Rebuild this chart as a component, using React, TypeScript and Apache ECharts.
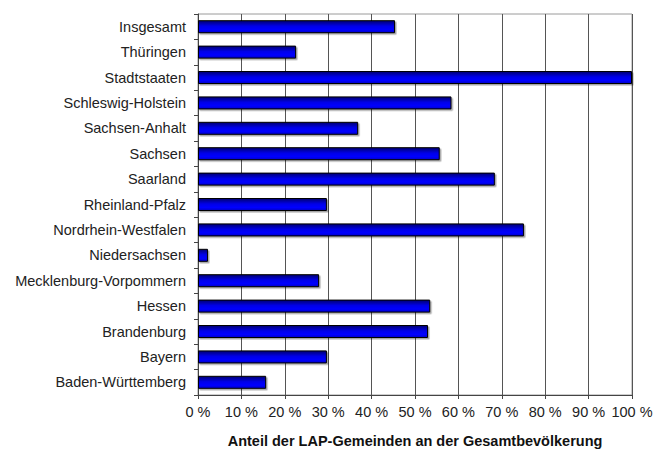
import React, { useEffect, useRef } from "react";
import * as echarts from "echarts";

const categories = [
  "Insgesamt",
  "Thüringen",
  "Stadtstaaten",
  "Schleswig-Holstein",
  "Sachsen-Anhalt",
  "Sachsen",
  "Saarland",
  "Rheinland-Pfalz",
  "Nordrhein-Westfalen",
  "Niedersachsen",
  "Mecklenburg-Vorpommern",
  "Hessen",
  "Brandenburg",
  "Bayern",
  "Baden-Württemberg",
];

const shares = [45.4, 22.6, 100, 58.4, 36.9, 55.7, 68.4, 29.7, 75.1, 2.3, 27.9, 53.5, 53.0, 29.7, 15.7];

const axisTitle = "Anteil der LAP-Gemeinden an der Gesamtbevölkerung";

export default function App() {
  const ref = useRef<HTMLDivElement>(null);
  useEffect(() => {
    if (!ref.current) return;
    const chart = echarts.init(ref.current, undefined, { renderer: "svg" });
    chart.setOption({
      animation: false,
      backgroundColor: "#ffffff",
      textStyle: { fontFamily: "Liberation Sans, Arial, sans-serif" },
      grid: {
        left: 198,
        right: 29,
        top: 14,
        bottom: 55,
        containLabel: false,
        outerBoundsMode: "none",
        show: true,
        borderColor: "#9a9a9a",
        borderWidth: 1,
        backgroundColor: "transparent",
      },
      xAxis: {
        type: "value",
        min: 0,
        max: 100,
        interval: 10,
        axisLine: { show: true, lineStyle: { color: "#444", width: 1 } },
        axisTick: { show: true, length: 4, lineStyle: { color: "#444" } },
        axisLabel: {
          formatter: "{value} %",
          fontSize: 14.5,
          color: "#222",
          margin: 9,
        },
        splitLine: { show: true, lineStyle: { color: "#555", width: 1 } },
        name: axisTitle,
        nameLocation: "middle",
        nameGap: 38,
        nameTextStyle: { fontSize: 14.5, fontWeight: "bold", color: "#111" },
      },
      yAxis: {
        type: "category",
        data: categories,
        inverse: true,
        axisLine: { show: true, lineStyle: { color: "#444", width: 1 } },
        axisTick: { show: true, length: 4, lineStyle: { color: "#444" } },
        axisLabel: { fontSize: 14.5, color: "#222", margin: 12 },
        splitLine: { show: false },
      },
      series: [
        {
          type: "bar",
          data: shares,
          barWidth: 13,
          itemStyle: {
            color: new echarts.graphic.LinearGradient(0, 0, 0, 1, [
              { offset: 0, color: "#000070" },
              { offset: 0.45, color: "#0000e8" },
              { offset: 0.75, color: "#0000ff" },
              { offset: 1, color: "#0000c8" },
            ]),
            borderColor: "#000000",
            borderWidth: 1,
            shadowColor: "rgba(0,0,0,0.35)",
            shadowOffsetX: 1.5,
            shadowOffsetY: 1.5,
            shadowBlur: 1,
          },
        },
      ],
    });
    return () => chart.dispose();
  }, []);
  return (
    <div
      ref={ref}
      style={{ position: "fixed", left: 0, top: 0, width: 661, height: 450 }}
    />
  );
}
